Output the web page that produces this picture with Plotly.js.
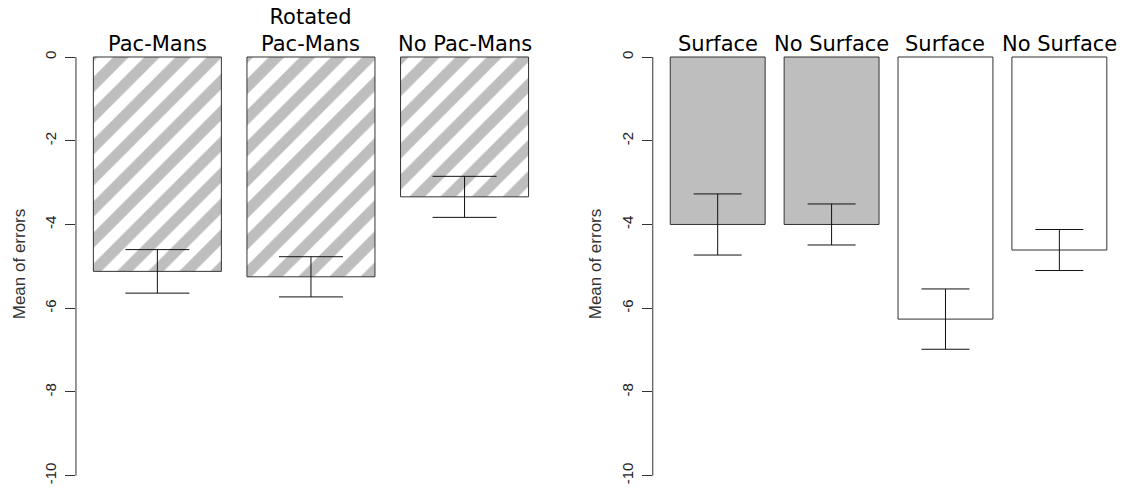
<!DOCTYPE html>
<html>
<head>
<meta charset="utf-8">
<script src="https://cdn.plot.ly/plotly-3.0.1.min.js"></script>
<style>
  html, body { margin: 0; padding: 0; background: #ffffff; }
  #chart { width: 1122px; height: 488px; }
</style>
</head>
<body>
<div id="chart"></div>
<script>
// ---- data ----
const leftCategories = ["Pac-Mans", "Rotated<br>Pac-Mans", "No Pac-Mans"];
const leftMeans = [-5.12, -5.25, -3.34];
const leftErrors = [0.52, 0.48, 0.49];

const rightCategories = ["Surface", "No Surface", "Surface", "No Surface"];
const rightMeans = [-4.00, -4.00, -6.26, -4.61];
const rightErrors = [0.73, 0.49, 0.72, 0.49];
const rightFills = ["#bebebe", "#bebebe", "#ffffff", "#ffffff"];

const yTickValues = [0, -2, -4, -6, -8, -10];
const yTitle = "Mean of errors";

// ---- styling ----
const outline = "#333333";
const labelFont = { family: "DejaVu Sans", size: 21, color: "#000000" };
const tickFont = { family: "Liberation Sans", size: 15, color: "#222222" };
const titleFont = { family: "Liberation Sans", size: 17, color: "#333333" };

const leftIdx = leftCategories.map((_, i) => i);
const rightIdx = rightCategories.map((_, i) => i);

const traces = [
  {
    type: "bar",
    x: leftIdx,
    y: leftMeans,
    width: leftIdx.map(() => 1 / 1.2),
    xaxis: "x", yaxis: "y",
    marker: {
      color: "#ffffff",
      line: { color: outline, width: 1 },
      pattern: { shape: "/", fgcolor: "#bebebe", bgcolor: "#ffffff", fgopacity: 1, size: 22, solidity: 0.5, fillmode: "replace" }
    },
    error_y: { type: "data", array: leftErrors, visible: true, color: "#111111", thickness: 1, width: 32 },
    hoverinfo: "skip",
    showlegend: false
  },
  {
    type: "bar",
    x: rightIdx,
    y: rightMeans,
    width: rightIdx.map(() => 1 / 1.2),
    xaxis: "x2", yaxis: "y2",
    marker: { color: rightFills, line: { color: outline, width: 1 } },
    error_y: { type: "data", array: rightErrors, visible: true, color: "#111111", thickness: 1, width: 24 },
    hoverinfo: "skip",
    showlegend: false
  }
];

const yMin = Math.min(...yTickValues);
const yMax = Math.max(...yTickValues);

function yAxis(anchor) {
  return {
    anchor: anchor,
    range: [-10.294, 0.406],
    domain: [0, 1],
    tickmode: "array",
    tickvals: yTickValues,
    ticktext: yTickValues.map(String),
    ticks: "outside",
    ticklen: 10,
    tickwidth: 1,
    tickcolor: outline,
    tickangle: -90,
    tickfont: tickFont,
    ticklabelstandoff: 3,
    showline: false,
    showgrid: false,
    zeroline: false,
    title: { text: yTitle, font: titleFont, standoff: 12 }
  };
}

function xAxis(anchor, domain, range) {
  return {
    anchor: anchor,
    domain: domain,
    range: range,
    showline: false, showgrid: false, zeroline: false,
    showticklabels: false, ticks: ""
  };
}

const annotations = [];
leftCategories.forEach((c, i) => {
  annotations.push({ x: i, y: 0, xref: "x", yref: "y", text: c, showarrow: false,
    yanchor: "bottom", xanchor: "center", font: labelFont, yshift: -1 });
});
rightCategories.forEach((c, i) => {
  annotations.push({ x: i, y: 0, xref: "x2", yref: "y2", text: c, showarrow: false,
    yanchor: "bottom", xanchor: "center", font: labelFont, yshift: -1 });
});

const shapes = [
  { type: "line", xref: "x domain", yref: "y", x0: 0, x1: 0, y0: yMax, y1: yMin, line: { color: outline, width: 1 } },
  { type: "line", xref: "x2 domain", yref: "y2", x0: 0, x1: 0, y0: yMax, y1: yMin, line: { color: outline, width: 1 } }
];

const layout = {
  width: 1122,
  height: 488,
  margin: { l: 0, r: 0, t: 40, b: 0, pad: 0 },
  paper_bgcolor: "#ffffff",
  plot_bgcolor: "#ffffff",
  xaxis: xAxis("y", [0.0677, 0.4866], [-0.53, 2.53]),
  yaxis: yAxis("x"),
  xaxis2: xAxis("y2", [0.5818, 1.0], [-0.57, 3.55]),
  yaxis2: yAxis("x2"),
  annotations: annotations,
  shapes: shapes,
  showlegend: false
};

Plotly.newPlot("chart", traces, layout, { displayModeBar: false, staticPlot: true });
</script>
</body>
</html>
